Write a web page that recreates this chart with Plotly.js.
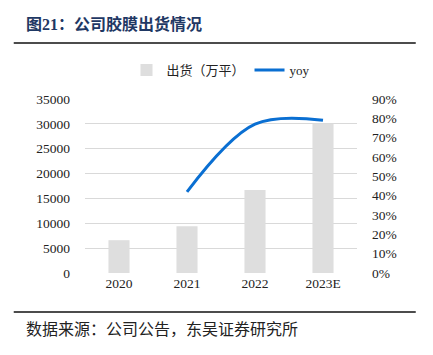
<!DOCTYPE html>
<html>
<head>
<meta charset="utf-8">
<script src="https://cdn.plot.ly/plotly-3.0.1.min.js"></script>
<style>html,body{margin:0;padding:0;background:#fff;}#chart{width:433px;height:355px;}</style>
</head>
<body>
<div id="chart"></div>
<script>
const categories = ['2020', '2021', '2022', '2023E'];
const shipments = [6600, 9400, 16700, 30000];
const yoyCats = ['2021', '2022', '2023E'];
const yoy = [0.42, 0.77, 0.79];
const leftTicks = [0, 5000, 10000, 15000, 20000, 25000, 30000, 35000];
const rightTicks = [0, 0.1, 0.2, 0.3, 0.4, 0.5, 0.6, 0.7, 0.8, 0.9];
const rightTickText = ['0%', '10%', '20%', '30%', '40%', '50%', '60%', '70%', '80%', '90%'];

const serif = 'Liberation Serif, Times New Roman, Noto Sans CJK SC, serif';
const cjk = 'Noto Sans CJK SC, sans-serif';

const traces = [
  {
    type: 'bar', name: '出货（万平）', x: categories, y: shipments,
    marker: {color: '#dedede'}, yaxis: 'y'
  },
  {
    type: 'scatter', mode: 'lines', name: 'yoy', x: yoyCats, y: yoy,
    line: {color: '#0a6fd2', width: 3, shape: 'spline', smoothing: 1}, yaxis: 'y2'
  }
];

const layout = {
  width: 433, height: 355,
  margin: {l: 85, r: 76, t: 99, b: 82},
  paper_bgcolor: '#fff', plot_bgcolor: '#fff',
  bargap: 0.69,
  showlegend: true,
  legend: {
    orientation: 'h', x: 0.5, y: 1.167, xanchor: 'center', yanchor: 'middle',
    font: {family: serif, size: 13, color: '#222'}, traceorder: 'normal',
    itemwidth: 30, tracegroupgap: 0
  },
  xaxis: {
    type: 'category', categoryorder: 'array', categoryarray: categories,
    showline: false, ticks: '', zeroline: false,
    tickfont: {family: serif, size: 13.5, color: '#222'}
  },
  yaxis: {
    range: [0, 35000], tickvals: leftTicks, tickformat: 'd', showgrid: true, gridcolor: '#d9d9d9', gridwidth: 1,
    zeroline: false, showline: false, ticks: '', ticklabelstandoff: 14,
    tickfont: {family: serif, size: 13.5, color: '#222'}
  },
  yaxis2: {
    overlaying: 'y', side: 'right', range: [0, 0.9],
    tickvals: rightTicks, ticktext: rightTickText, showgrid: false, zeroline: false,
    showline: false, ticklabelstandoff: 14,
    tickfont: {family: serif, size: 13.5, color: '#222'}
  },
  shapes: [
    {type: 'line', xref: 'paper', yref: 'paper', x0: -0.262, x1: 1.216, y0: 1.322, y1: 1.322,
     line: {color: '#111', width: 1.5}},
    {type: 'line', xref: 'paper', yref: 'paper', x0: -0.262, x1: 1.216, y0: -0.224, y1: -0.224,
     line: {color: '#111', width: 1.5}}
  ],
  annotations: [
    {xref: 'paper', yref: 'paper', x: -0.226, y: 1.43, xanchor: 'left', yanchor: 'middle',
     showarrow: false, text: '<b>图21：公司胶膜出货情况</b>',
     font: {family: 'Liberation Serif, Noto Sans CJK SC', size: 16, color: '#1f3864'}},
    {xref: 'paper', yref: 'paper', x: -0.226, y: -0.318, xanchor: 'left', yanchor: 'middle',
     showarrow: false, text: '数据来源：公司公告，东吴证券研究所',
     font: {family: cjk, size: 16, color: '#222'}}
  ]
};

Plotly.newPlot('chart', traces, layout, {displayModeBar: false, staticPlot: true});
</script>
</body>
</html>
